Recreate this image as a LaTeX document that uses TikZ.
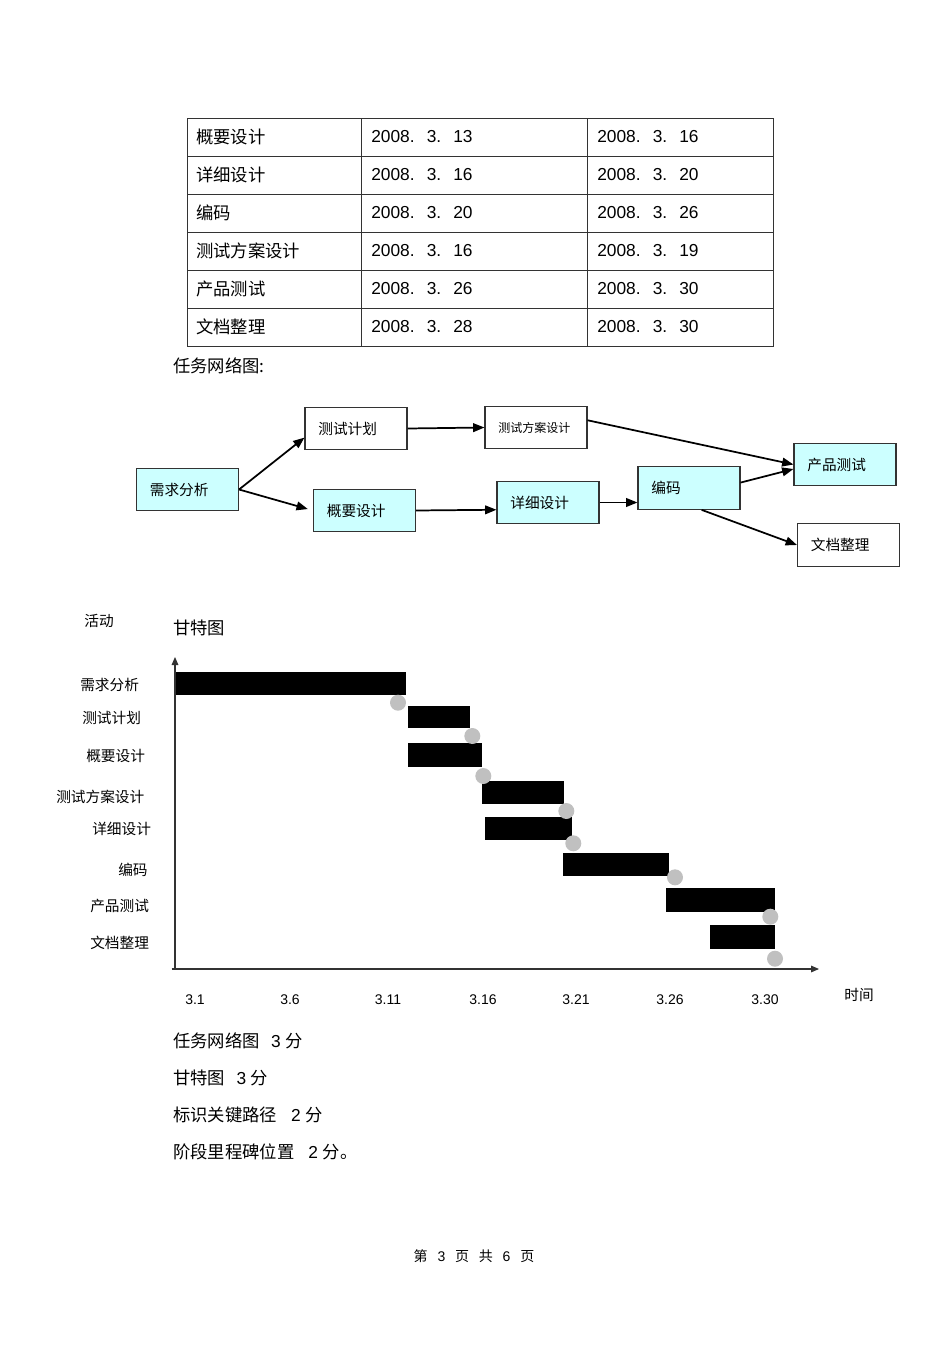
\documentclass[tikz,border=0pt]{standalone}
\usepackage{fontspec}
\setmainfont{Liberation Sans}
\newfontfamily\cjk{Noto Sans CJK SC}
\usetikzlibrary{arrows.meta}
\definecolor{cyanbox}{HTML}{CCFFFF}
\definecolor{dotgray}{HTML}{C0C0C0}
\definecolor{linegray}{HTML}{333333}
\newcommand{\zh}[1]{{\cjk #1}}
\newcommand{\ymd}[1]{2008.\hspace{0.7em}3.\hspace{0.7em}#1}
\tikzset{
  big/.style={font=\fontsize{13}{15}\selectfont,anchor=west,inner sep=0pt},
  foot/.style={font=\fontsize{10.5}{12}\selectfont,inner sep=0pt},
  grid/.style={draw=linegray,line width=0.75pt},
  netbox/.style={draw=linegray,line width=0.8pt,fill=white,minimum width=76.5pt,minimum height=32pt,text width=56.5pt,inner xsep=10pt,align=left,font=\cjk\fontsize{11}{13}\selectfont},
  crit/.style={netbox,fill=cyanbox},
  arr/.style={-{Triangle[length=8.5pt,width=6.5pt]},line width=1.3pt},
  axis/.style={-{Triangle[length=6pt,width=5pt]},draw=linegray,line width=0.8pt},
  act/.style={font=\cjk\fontsize{11}{13}\selectfont,anchor=west,inner sep=0pt},
  tick/.style={font=\fontsize{10.5}{12}\selectfont,inner sep=0pt},
  milestone/.style={fill=dotgray}
}
\begin{document}
\begin{tikzpicture}[x=0.75pt,y=-0.75pt]
\path[use as bounding box] (0,0) rectangle (950,1345);
% table
\draw[grid] (187,118) rectangle (773,346);
\foreach \y in {156,194,232,270,308} \draw[grid] (187,\y)--(773,\y);
\foreach \x in {361,587} \draw[grid] (\x,118)--(\x,346);
\foreach \act/\s/\e [count=\i] in {概要设计/13/16,详细设计/16/20,编码/20/26,测试方案设计/16/19,产品测试/26/30,文档整理/28/30}{
  \node[big] (task\i) at (196,99+38*\i) {\zh{\act}};
  \node[big] (start\i) at (371,99+38*\i) {\ymd{\s}};
  \node[big] (end\i) at (597,99+38*\i) {\ymd{\e}};
}

% task network
\node[big] (netlbl) at (173,366) {\zh{任务网络图:}};
\node[crit] (rq) at (187.5,489.5) {需求分析};
\node[netbox] (tp) at (356,428.5) {测试计划};
\node[crit] (gy) at (364.5,510.5) {概要设计};
\node[netbox,font=\cjk\fontsize{9}{11}\selectfont] (ta) at (536,427.5) {测试方案设计};
\node[crit] (xx) at (548,502.5) {详细设计};
\node[crit] (bm) at (689,488) {编码};
\node[crit] (cp) at (845,464.5) {产品测试};
\node[netbox] (wd) at (848.5,545) {文档整理};
\draw[arr] (rq.east) -- (tp.190); \draw[arr,shorten >=4pt] (rq.east) -- (gy.west);
\draw[arr] (tp.east) -- (ta.west); \draw[arr] (gy.east) -- (xx.188);
\draw[arr] (xx.east) -- (bm.west |- xx.east);
\draw[arr] (ta.8) -- (cp.west); \draw[arr] (bm.6) -- (cp.185);
\draw[arr] (bm.300) -- (wd.west);

% gantt chart
\node[act,anchor=center] (hd) at (99,621) {活动};
\node[big] (gt) at (173,628) {\zh{甘特图}};
\coordinate (o) at (175,969); \coordinate (ytop) at (175,657); \coordinate (xend) at (819,969);
\draw[axis] (o) -- (ytop); \draw[axis] ([xshift=-2.5pt]o) -- (xend);
\foreach \lbl/\x/\y [count=\i] in {需求分析/80/685,测试计划/82/718,概要设计/86/756,测试方案设计/56/797,详细设计/92/829,编码/118/870,产品测试/90/906,文档整理/90/943}
  \node[act] (row\i) at (\x,\y) {\lbl};
\foreach \a/\b/\c/\d in {176/405.7/671.7/695,407.7/470/705.7/728,407.7/482/742.7/766.7,482/564.3/780.7/803.7,485.3/571.7/817/840,562.7/669/853.3/876.3,665.7/775/888/912.3,710/775/925/949.3}
  \fill (\a,\c) rectangle (\b,\d);
\foreach \cx/\cy in {398/702.7,472.3/736,483.3/776,566.3/811,573.3/843.3,675/877.3,770.3/916.7,775/958.7}
  \fill[milestone] (\cx,\cy) circle[radius=6pt];
\foreach \v/\x [count=\i] in {3.1/195,3.6/290,3.11/388,3.16/483,3.21/576,3.26/670,3.30/765}
  \node[tick] (tk\i) at (\x,1000) {\v};
\node[act,anchor=center] (time) at (859,995) {时间};

% scoring notes
\node[big] (s1) at (173,1041) {\zh{任务网络图}\hspace{0.65em}3 \zh{分}};
\node[big] (s2) at (173,1078) {\zh{甘特图}\hspace{0.65em}3 \zh{分}};
\node[big] (s3) at (173,1115) {\zh{标识关键路径}\hspace{0.8em}2 \zh{分}};
\node[big] (s4) at (173,1152) {\zh{阶段里程碑位置}\hspace{0.8em}2 \zh{分。}};
\node[foot] (pg) at (474,1256) {\zh{第}\hspace{0.7em}3\hspace{0.7em}\zh{页}\hspace{0.7em}\zh{共}\hspace{0.7em}6\hspace{0.7em}\zh{页}};
\end{tikzpicture}
\end{document}
